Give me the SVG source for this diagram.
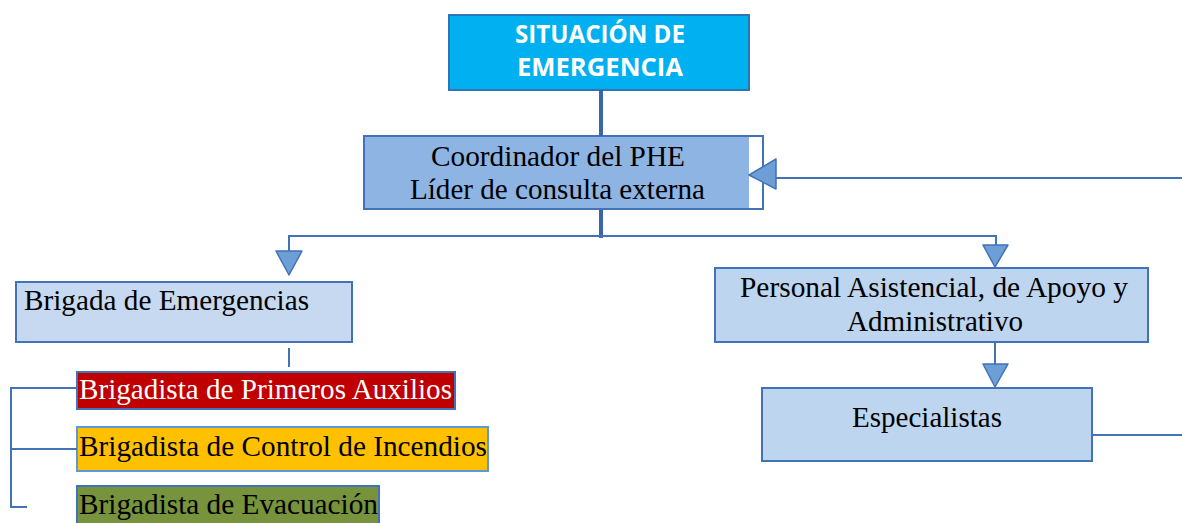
<svg xmlns="http://www.w3.org/2000/svg" width="1182" height="523" viewBox="0 0 1182 523">
<defs>
<style>
.ln{stroke:#4272B8;fill:none;stroke-width:2}
.thick{stroke:#3A65A8;fill:none;stroke-width:4}
.tri{fill:#6E9ED6;stroke:#4272B8;stroke-width:1.5;stroke-linejoin:round}
.box{stroke:#4272B8;stroke-width:2}
.t{font-family:"Liberation Serif",serif;fill:#000;font-size:29px}
.w{fill:#fff}
.h{font-family:"Open Sans","Liberation Sans",sans-serif;font-weight:bold;fill:#fff;font-size:25.5px}
</style>
</defs>
<rect width="1182" height="523" fill="#fff"/>
<g id="situacion">
<rect x="449" y="15" width="300" height="75" fill="#00B0F0" stroke="#2E75B6" stroke-width="2"/>
<text class="h" x="515" y="43" textLength="170" lengthAdjust="spacingAndGlyphs">SITUACIÓN DE</text>
<text class="h" x="517" y="76" textLength="166" lengthAdjust="spacingAndGlyphs">EMERGENCIA</text>
</g>
<g id="coordinador">
<rect x="364" y="136" width="399" height="73" fill="#fff" class="box"/>
<rect x="365" y="137" width="384" height="71" fill="#8EB4E3"/>
<text class="t" x="431" y="166" textLength="254" lengthAdjust="spacingAndGlyphs">Coordinador del PHE</text>
<text class="t" x="410" y="199" textLength="295" lengthAdjust="spacingAndGlyphs">Líder de consulta externa</text>
</g>
<g id="brigada">
<rect x="16" y="282" width="336" height="60" fill="#C6D9F1" class="box"/>
<text class="t" x="24" y="310" textLength="285" lengthAdjust="spacingAndGlyphs">Brigada de Emergencias</text>
</g>
<g id="primeros-auxilios">
<rect x="77" y="372" width="378" height="37" fill="#C00000" class="box"/>
<text class="t w" x="79" y="399" textLength="373" lengthAdjust="spacingAndGlyphs">Brigadista de Primeros Auxilios</text>
</g>
<g id="incendios">
<rect x="77" y="427" width="411" height="44" fill="#FFC000" stroke="#5B9BD5" stroke-width="2"/>
<text class="t" x="79" y="456" textLength="408" lengthAdjust="spacingAndGlyphs">Brigadista de Control de Incendios</text>
</g>
<g id="evacuacion">
<rect x="77" y="486" width="302" height="45" fill="#77933C" class="box"/>
<text class="t" x="79" y="514" textLength="299" lengthAdjust="spacingAndGlyphs">Brigadista de Evacuación</text>
</g>
<g id="personal">
<rect x="715" y="268" width="433" height="74" fill="#BDD5EE" class="box"/>
<text class="t" x="740" y="297" textLength="388" lengthAdjust="spacingAndGlyphs">Personal Asistencial, de Apoyo y</text>
<text class="t" x="847" y="331" textLength="176" lengthAdjust="spacingAndGlyphs">Administrativo</text>
</g>
<g id="especialistas">
<rect x="762" y="388" width="330" height="73" fill="#BDD5EE" class="box"/>
<text class="t" x="852" y="427" textLength="150" lengthAdjust="spacingAndGlyphs">Especialistas</text>
</g>
<g id="connectors">
<line class="thick" x1="601" y1="90" x2="601" y2="136"/>
<line class="thick" x1="601" y1="210" x2="601" y2="238"/>
<polyline class="ln" points="289,256 289,236 996,236 996,250"/>
<line class="ln" x1="1182" y1="178" x2="776" y2="178"/>
<polygon class="tri" points="749,175 776,159 776,189"/>
<polygon class="tri" points="276,251 302,251 289,275"/>
<polygon class="tri" points="983,245 1008,245 995,267"/>
<line class="ln" x1="995" y1="342" x2="995" y2="366"/>
<polygon class="tri" points="983,364 1008,364 995,387"/>
<line class="ln" x1="1092" y1="435" x2="1182" y2="435"/>
<line class="ln" x1="289" y1="348" x2="289" y2="367"/>
<polyline class="ln" points="77,388 11,388 11,507 27,507"/>
<line class="ln" x1="11" y1="449" x2="77" y2="449"/>
</g>
</svg>
